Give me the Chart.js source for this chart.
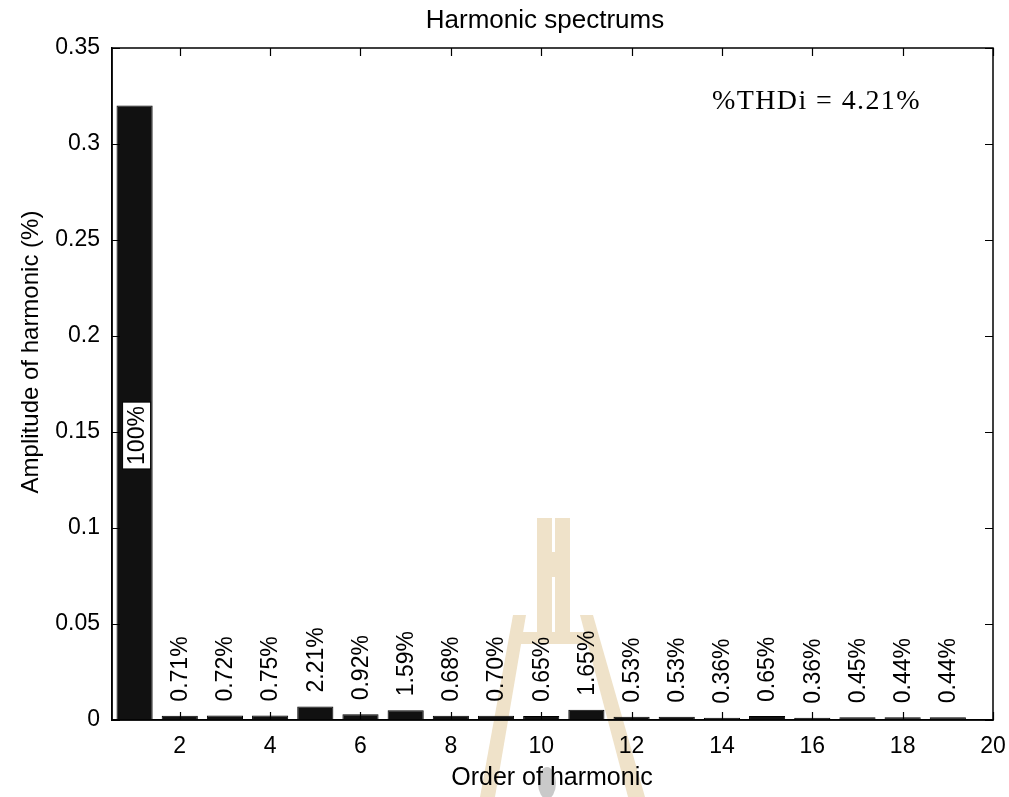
<!DOCTYPE html>
<html>
<head>
<meta charset="utf-8">
<title>Harmonic spectrums</title>
<script src="https://cdn.jsdelivr.net/npm/chart.js@4.4.1/dist/chart.umd.min.js"></script>
<style>
  html, body { margin: 0; padding: 0; background: #ffffff; }
  #wrap { width: 1009px; height: 797px; position: relative; }
</style>
</head>
<body>
<div id="wrap"><canvas id="spectrum" width="1009" height="797"></canvas></div>
<script>
// Harmonic orders and their magnitude as a percentage of the fundamental
const harmonicOrder = [1, 2, 3, 4, 5, 6, 7, 8, 9, 10, 11, 12, 13, 14, 15, 16, 17, 18, 19];
const harmonicPercent = [100, 0.71, 0.72, 0.75, 2.21, 0.92, 1.59, 0.68, 0.70, 0.65, 1.65, 0.53, 0.53, 0.36, 0.65, 0.36, 0.45, 0.44, 0.44];
// Amplitude of the fundamental component
const fundamentalAmplitude = 0.32;
// Axis ticks
const xTickValues = [2, 4, 6, 8, 10, 12, 14, 16, 18, 20];
const yTickValues = [0, 0.05, 0.1, 0.15, 0.2, 0.25, 0.3, 0.35];
const yTickLabels = ['0', '0.05', '0.1', '0.15', '0.2', '0.25', '0.3', '0.35'];
// Texts
const chartTitle = 'Harmonic spectrums';
const xAxisTitle = 'Order of harmonic';
const yAxisTitle = 'Amplitude of harmonic (%)';
const thdText = '%THDi = 4.21%';

const SANS = "'Liberation Sans', Arial, Helvetica, sans-serif";
const SERIF = "'Liberation Serif', 'Times New Roman', serif";

const barPoints = harmonicOrder.map((h, i) => ({ x: h, y: harmonicPercent[i] / 100 * fundamentalAmplitude }));
const barLabels = harmonicPercent.map(p => (p === 100 ? '100%' : p.toFixed(2) + '%'));

// Faint emblem printed behind the figure
const emblemPlugin = {
  id: 'emblem',
  beforeDraw(chart) {
    const ctx = chart.ctx;
    ctx.save();
    ctx.fillStyle = '#ffffff';
    ctx.fillRect(0, 0, chart.width, chart.height);
    ctx.fillStyle = '#efe2c9';
    // central pillar with slits
    ctx.fillRect(537, 518, 15, 122);
    ctx.fillRect(555, 518, 15, 122);
    ctx.fillRect(537, 552, 33, 25);
    // cross bar
    ctx.fillRect(518, 632, 70, 12);
    // left leg
    ctx.beginPath();
    ctx.moveTo(513, 615); ctx.lineTo(526, 615); ctx.lineTo(495, 797); ctx.lineTo(480, 797);
    ctx.closePath(); ctx.fill();
    // right leg
    ctx.beginPath();
    ctx.moveTo(580, 615); ctx.lineTo(593, 615); ctx.lineTo(645, 797); ctx.lineTo(628, 797);
    ctx.closePath(); ctx.fill();
    // grey dot
    ctx.fillStyle = '#c9c9c9';
    ctx.beginPath();
    ctx.ellipse(547, 783, 9, 16, 0, 0, Math.PI * 2);
    ctx.fill();
    ctx.restore();
  }
};

// Box frame, inward ticks, value labels and annotation texts
const framePlugin = {
  id: 'frame',
  afterDatasetsDraw(chart) {
    const ctx = chart.ctx;
    const a = chart.chartArea;
    const xs = chart.scales.x;
    const ys = chart.scales.y;
    const tick = 8;
    ctx.save();
    ctx.strokeStyle = '#000';
    ctx.lineWidth = 1.5;
    ctx.strokeRect(a.left, a.top, a.right - a.left, a.bottom - a.top);
    ctx.beginPath();
    xTickValues.forEach(v => {
      const px = Math.round(xs.getPixelForValue(v)) + 0.5;
      ctx.moveTo(px, a.bottom); ctx.lineTo(px, a.bottom - tick);
      ctx.moveTo(px, a.top); ctx.lineTo(px, a.top + tick);
    });
    yTickValues.forEach(v => {
      const py = Math.round(ys.getPixelForValue(v)) + 0.5;
      ctx.moveTo(a.left, py); ctx.lineTo(a.left + tick, py);
      ctx.moveTo(a.right, py); ctx.lineTo(a.right - tick, py);
    });
    ctx.lineWidth = 1.2;
    ctx.stroke();

    // value labels, rotated, reading bottom to top
    ctx.fillStyle = '#000';
    ctx.font = '23px ' + SANS;
    ctx.textBaseline = 'middle';
    barPoints.forEach((p, i) => {
      const px = xs.getPixelForValue(p.x);
      if (i === 0) {
        const cy = ys.getPixelForValue(p.y * 0.463);
        const w = ctx.measureText(barLabels[i]).width;
        ctx.save();
        ctx.translate(px + 2, cy);
        ctx.rotate(-Math.PI / 2);
        ctx.fillStyle = '#fff';
        ctx.fillRect(-w / 2 - 4, -14, w + 8, 28);
        ctx.strokeStyle = '#000';
        ctx.lineWidth = 1;
        ctx.strokeRect(-w / 2 - 4, -14, w + 8, 28);
        ctx.fillStyle = '#000';
        ctx.textAlign = 'center';
        ctx.fillText(barLabels[i], 0, 1);
        ctx.restore();
      } else {
        const py = ys.getPixelForValue(p.y) - 14;
        ctx.save();
        ctx.translate(px, py);
        ctx.rotate(-Math.PI / 2);
        ctx.textAlign = 'left';
        ctx.fillText(barLabels[i], 0, 1);
        ctx.restore();
      }
    });

    // THD annotation
    ctx.font = '28px ' + SERIF;
    ctx.textAlign = 'left';
    ctx.textBaseline = 'alphabetic';
    if ('letterSpacing' in ctx) ctx.letterSpacing = '1.4px';
    ctx.fillText(thdText, 712, 109);
    if ('letterSpacing' in ctx) ctx.letterSpacing = '0px';

    // titles
    ctx.font = '26px ' + SANS;
    ctx.textAlign = 'center';
    ctx.textBaseline = 'middle';
    ctx.fillText(chartTitle, 545, 21);
    ctx.font = '25px ' + SANS;
    ctx.fillText(xAxisTitle, 552, 778);
    ctx.font = '24px ' + SANS;
    ctx.save();
    ctx.translate(31, 352);
    ctx.rotate(-Math.PI / 2);
    ctx.fillText(yAxisTitle, 0, 0);
    ctx.restore();
    ctx.restore();
  }
};

new Chart(document.getElementById('spectrum'), {
  type: 'bar',
  data: {
    datasets: [{
      data: barPoints,
      backgroundColor: '#111111',
      borderColor: '#000000',
      borderWidth: 1,
      barPercentage: 0.8,
      categoryPercentage: 1.0
    }]
  },
  options: {
    responsive: false,
    animation: false,
    devicePixelRatio: 1,
    layout: { padding: { top: 48, right: 16, bottom: 0, left: 0 } },
    plugins: { legend: { display: false }, title: { display: false }, tooltip: { enabled: false } },
    scales: {
      x: {
        type: 'linear',
        offset: false,
        min: 0.5,
        max: 20,
        afterBuildTicks(scale) { scale.ticks = xTickValues.map(v => ({ value: v })); },
        afterFit(scale) { scale.height = 77; scale.paddingLeft = 0; scale.paddingRight = 0; },
        grid: { display: false, drawTicks: false, offset: false },
        border: { display: true, color: '#000', width: 1.5 },
        ticks: {
          autoSkip: false,
          maxRotation: 0,
          padding: 13,
          color: '#000',
          font: { family: SANS, size: 23 },
          callback: v => String(v)
        }
      },
      y: {
        type: 'linear',
        min: 0,
        max: 0.35,
        afterBuildTicks(scale) { scale.ticks = yTickValues.map(v => ({ value: v })); },
        afterFit(scale) { scale.width = 112; scale.paddingTop = 0; scale.paddingBottom = 0; },
        grid: { display: false, drawTicks: false },
        border: { display: true, color: '#000', width: 1.5 },
        ticks: {
          padding: 12,
          color: '#000',
          font: { family: SANS, size: 23 },
          callback: (v, i) => yTickLabels[i]
        }
      }
    }
  },
  plugins: [emblemPlugin, framePlugin]
});
</script>
</body>
</html>
